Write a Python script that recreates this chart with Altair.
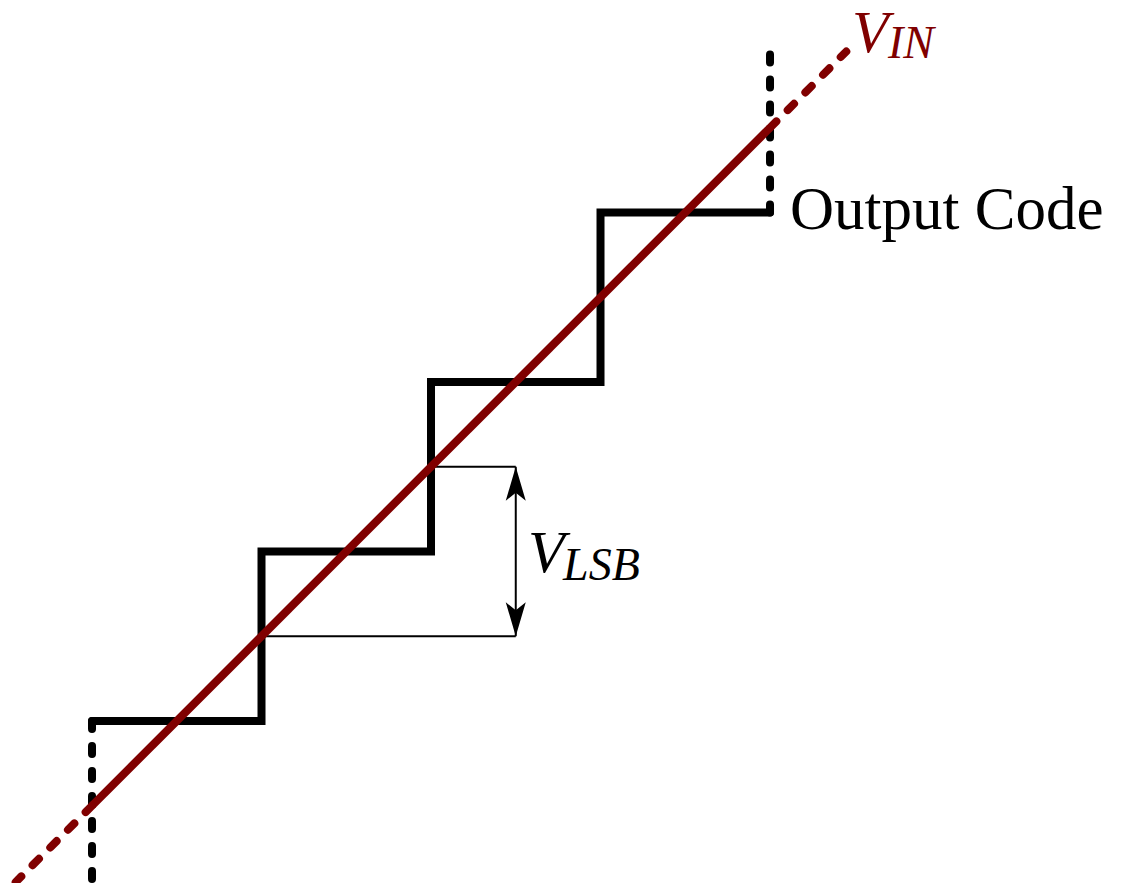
import altair as alt
import pandas as pd

# Staircase (output code)
stair_x = [0, 1, 1, 2, 2, 3, 3, 4]
stair_y = [0, 0, 1, 1, 2, 2, 3, 3]

# Dashed vertical continuations of the staircase
dash_black_id = ["low", "low", "high", "high"]
dash_black_x = [0, 0, 4, 4]
dash_black_y = [0, -0.95, 3, 3.95]

# V_IN line: solid part and dashed continuations
vin_x = [0, 4]
vin_y = [-0.5, 3.5]
vin_dash_id = ["low", "low", "high", "high"]
vin_dash_x = [0, -0.45, 4, 4.45]
vin_dash_y = [-0.5, -0.95, 3.5, 3.95]

# V_LSB guide lines
guide_x = [2, 1, 2.5]
guide_x2 = [2.5, 2.5, 2.5]
guide_y = [1.5, 0.5, 0.5]
guide_y2 = [1.5, 0.5, 1.5]

# Arrow tips
arrow_x = [2.5, 2.5]
arrow_y = [1.5, 0.5]

# Labels
lbl_main = ["V", "V"]
lbl_main_x = [2.572, 4.484]
lbl_main_y = [0.879, 3.947]
lbl_sub = ["LSB", "IN"]
lbl_sub_x = [2.779, 4.696]
lbl_sub_y = [0.832, 3.912]
lbl_color = ["black", "#800000"]
out_label = "Output Code"
out_x = 4.118
out_y = 2.903

RED = "#800000"
xs = alt.Scale(domain=[-0.4956, 6.0294], nice=False, zero=False)
ys = alt.Scale(domain=[-0.9558, 4.2065], nice=False, zero=False)

def XY():
    return dict(x=alt.X("x:Q", scale=xs, axis=None),
                y=alt.Y("y:Q", scale=ys, axis=None))

stair_df = pd.DataFrame({"x": stair_x, "y": stair_y, "o": range(len(stair_x))})
dashb_df = pd.DataFrame({"id": dash_black_id, "x": dash_black_x, "y": dash_black_y,
                         "o": range(len(dash_black_x))})
vin_df = pd.DataFrame({"x": vin_x, "y": vin_y, "o": range(len(vin_x))})
vind_df = pd.DataFrame({"id": vin_dash_id, "x": vin_dash_x, "y": vin_dash_y,
                        "o": range(len(vin_dash_x))})
guide_df = pd.DataFrame({"x": guide_x, "x2": guide_x2, "y": guide_y, "y2": guide_y2})
arrow_df = pd.DataFrame({"x": arrow_x, "y": arrow_y})
main_df = pd.DataFrame({"t": lbl_main, "x": lbl_main_x, "y": lbl_main_y, "c": lbl_color})
sub_df = pd.DataFrame({"t": lbl_sub, "x": lbl_sub_x, "y": lbl_sub_y, "c": lbl_color})
out_df = pd.DataFrame({"t": [out_label], "x": [out_x], "y": [out_y]})

stair = alt.Chart(stair_df).mark_line(
    color="black", strokeWidth=8, strokeJoin="miter", strokeCap="round"
).encode(**XY(), order="o:Q")

dashb = alt.Chart(dashb_df).mark_line(
    color="black", strokeWidth=8, strokeCap="round", strokeDash=[8, 17]
).encode(**XY(), detail="id:N", order="o:Q")

vin = alt.Chart(vin_df).mark_line(
    color=RED, strokeWidth=8, strokeCap="butt"
).encode(**XY(), order="o:Q")

vind = alt.Chart(vind_df).mark_line(
    color=RED, strokeWidth=8, strokeCap="round", strokeDash=[9, 16]
).encode(**XY(), detail="id:N", order="o:Q")

guides = alt.Chart(guide_df).mark_rule(color="black", strokeWidth=2).encode(
    x=alt.X("x:Q", scale=xs, axis=None), x2="x2:Q",
    y=alt.Y("y:Q", scale=ys, axis=None), y2="y2:Q")

up_tip = alt.Chart(arrow_df.iloc[[0]]).mark_point(
    shape="M0,0 L0.5,1.7 L0,1.3 L-0.5,1.7 Z", filled=True, opacity=1,
    color="black", size=1600, strokeWidth=0
).encode(**XY())
down_tip = alt.Chart(arrow_df.iloc[[1]]).mark_point(
    shape="M0,0 L0.5,-1.7 L0,-1.3 L-0.5,-1.7 Z", filled=True, opacity=1,
    color="black", size=1600, strokeWidth=0
).encode(**XY())

main_txt = alt.Chart(main_df).mark_text(
    font="Liberation Serif", fontStyle="italic", fontSize=60,
    align="left", baseline="alphabetic"
).encode(**XY(), text="t:N", color=alt.Color("c:N", scale=None))

sub_txt = alt.Chart(sub_df).mark_text(
    font="Liberation Serif", fontStyle="italic", fontSize=46,
    align="left", baseline="alphabetic"
).encode(**XY(), text="t:N", color=alt.Color("c:N", scale=None))

out_txt = alt.Chart(out_df).mark_text(
    font="Liberation Serif", fontSize=61, align="left", baseline="alphabetic",
    color="black"
).encode(**XY(), text="t:N")

chart = alt.layer(
    stair, dashb, guides, up_tip, down_tip, vind, vin, main_txt, sub_txt, out_txt
).properties(
    width=1106, height=875, padding=0,
    autosize=alt.AutoSizeParams(type="none")
).configure_view(stroke=None)

chart.save("out.html", embed_options={"renderer": "svg", "actions": False})
